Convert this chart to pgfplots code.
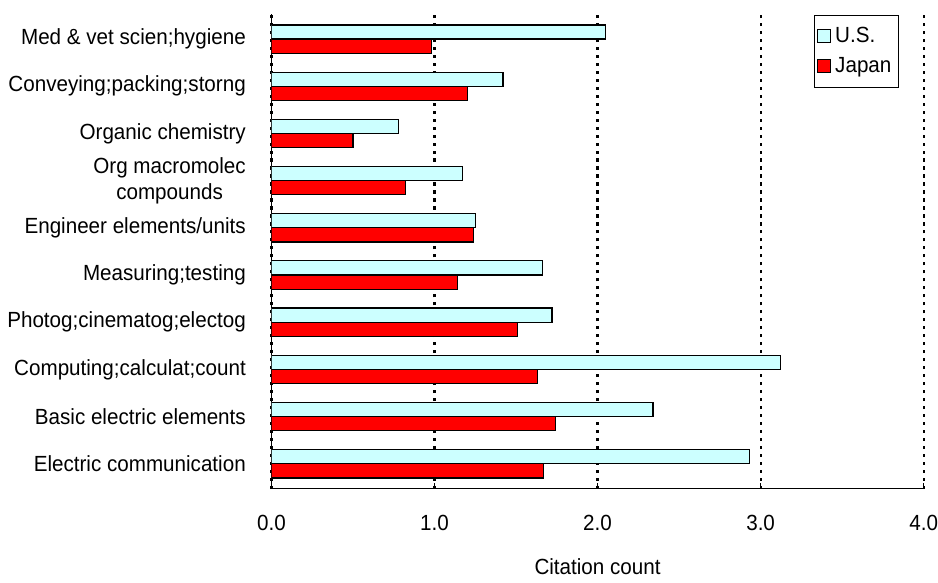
\documentclass[border=0pt]{standalone}
\usepackage{fontspec}
\setmainfont{Liberation Sans}[FakeStretch=0.94]
\usepackage{pgfplots}
\pgfplotsset{compat=1.18}

\definecolor{uscyan}{HTML}{CCFFFF}
\definecolor{jpred}{HTML}{FF0000}

\begin{document}
\begin{tikzpicture}
\fontsize{11}{13}\selectfont
\begin{axis}[
    xbar,
    scale only axis,
    width=327pt,
    height=238pt,
    xmin=0, xmax=4,
    ymin=-0.53, ymax=9.53,
    bar width=0.3,
    axis x line*=bottom,
    axis y line*=left,
    xtick={0,1,2,3,4},
    xticklabel style={yshift=-9.5pt, inner xsep=0pt},
    /pgf/number format/.cd, fixed, fixed zerofill, precision=1, assume math mode=true,
    /pgfplots/.cd,
    xmajorgrids,
    major grid style={black, line width=1.1pt, dash pattern=on 1.6pt off 2.4pt},
    ytick={0,...,9},
    yticklabels={Electric communication, Basic electric elements, Computing;calculat;count,
      Photog;cinematog;electog, Measuring;testing, Engineer elements/units,
      {Org macromolec\\compounds}, Organic chemistry, Conveying;packing;storng,
      Med \& vet scien;hygiene},
    yticklabel style={align=center, xshift=-6pt},
    major tick length=3pt,
    ytick style={draw=none},
    xtick style={black},
    xlabel={Citation count},
    xlabel style={yshift=-6.5pt},
    axis line style={black, line width=0.6pt},
    legend style={at={(0.962,0.998)}, anchor=north east, draw=black, line width=0.5pt,
      font=\fontsize{11}{13}\selectfont, inner xsep=1.5pt, inner ysep=4pt,
      row sep=1.5pt, cells={anchor=west}},
    legend image code/.code={\draw[#1, line width=0.5pt] (0pt,-3pt) rectangle (6.5pt,3.5pt);},
    tick label style={font=\fontsize{11}{13}\selectfont},
    label style={font=\fontsize{11}{13}\selectfont},
]

% U.S.
\addplot[fill=uscyan, draw=black, line width=0.6pt, bar shift=0.15] coordinates {
    (2.93,0) (2.34,1) (3.12,2) (1.72,3) (1.66,4)
    (1.25,5) (1.17,6) (0.78,7) (1.42,8) (2.05,9)
};
% Japan
\addplot[fill=jpred, draw=black, line width=0.6pt, bar shift=-0.15] coordinates {
    (1.67,0) (1.74,1) (1.63,2) (1.51,3) (1.14,4)
    (1.24,5) (0.82,6) (0.50,7) (1.20,8) (0.98,9)
};

\legend{U.S., Japan}
\end{axis}
% white margin above the plot, as in the original
\path (current bounding box.north) ++(0,6.5pt);
\end{tikzpicture}
\end{document}
